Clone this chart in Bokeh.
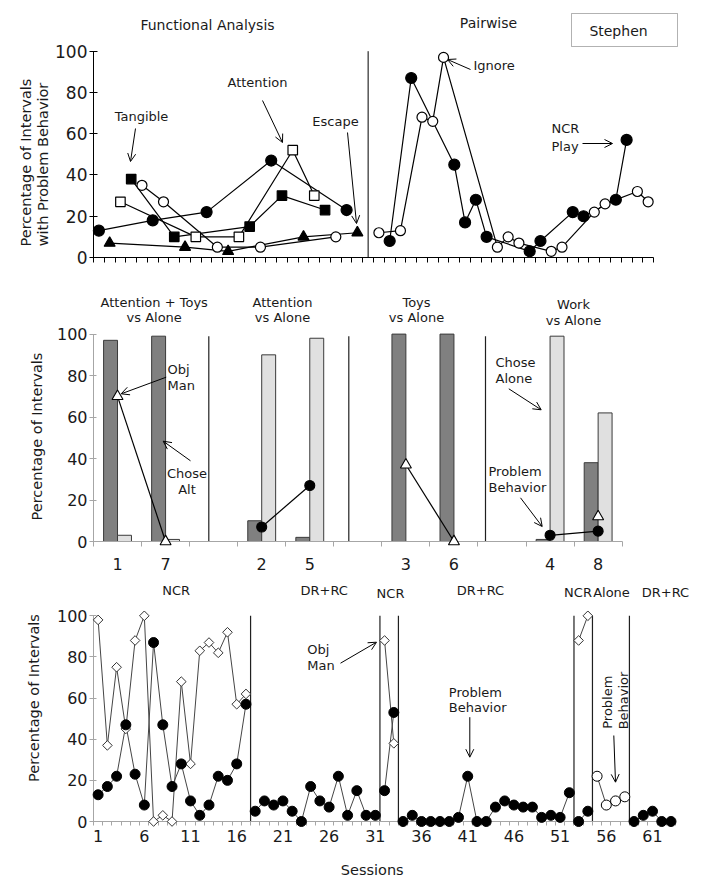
from math import pi
from bokeh.plotting import figure
from bokeh.models import Range1d, FixedTicker, Label, Arrow, OpenHead, BoxAnnotation
from bokeh.core.properties import value
from bokeh.layouts import column
from bokeh.embed import file_html
from bokeh.resources import INLINE

FONT = "DejaVu Sans"
TXT = "#1a1a1a"

# ---------------- Top panel data: Functional Analysis (1-25) and Pairwise (27-52)
fa_ignore_sessions = [1, 6, 11, 17, 24]
fa_ignore = [13, 18, 22, 47, 23]
fa_escape_sessions = [2, 9, 13, 20, 25]
fa_escape = [7, 5, 3, 10, 12]
fa_attention_sessions = [3, 10, 14, 19, 21]
fa_attention = [27, 10, 10, 52, 30]
fa_tangible_sessions = [4, 8, 15, 18, 22]
fa_tangible = [38, 10, 15, 30, 23]
fa_play_sessions = [5, 7, 12, 16, 23]
fa_play = [35, 27, 5, 5, 10]
pw_ncr_play_sessions = [28, 30, 34, 35, 36, 37, 41, 42, 45, 46, 49, 50]
pw_ncr_play = [8, 87, 45, 17, 28, 10, 3, 8, 22, 20, 28, 57]
pw_ignore_sessions = [27, 29, 31, 32, 33, 38, 39, 40, 43, 44, 47, 48, 51, 52]
pw_ignore = [12, 13, 68, 66, 97, 5, 10, 7, 3, 5, 22, 26, 32, 27]
top_n_sessions = 52
top_phase_change = 26

# ---------------- Middle panel data: choice assessment
choice_titles = [("Attention + Toys", "vs Alone"), ("Attention", "vs Alone"),
                 ("Toys", "vs Alone"), ("Work", "vs Alone")]
choice_sessions = [["1", "7"], ["2", "5"], ["3", "6"], ["4", "8"]]
chose_alt = [[97, 99], [10, 2], [100, 100], [1, 38]]
chose_alone = [[3, 1], [90, 98], [0, 0], [99, 62]]
choice_obj_man = [[70, 0], [None, None], [37, 0], [None, 12]]
choice_problem = [[None, None], [7, 27], [None, None], [3, 5]]

# ---------------- Bottom panel data: treatment
treat_phases = ["NCR", "DR+RC", "NCR", "DR+RC", "NCR", "Alone", "DR+RC"]
treat_phase_lengths = [17, 14, 2, 19, 2, 4, 5]
treat_problem = [13, 17, 22, 47, 23, 8, 87, 47, 17, 28, 10, 3, 8, 22, 20, 28, 57,
                 5, 10, 8, 10, 5, 0, 17, 10, 7, 22, 3, 15, 3, 3,
                 15, 53,
                 0, 3, 0, 0, 0, 0, 2, 22, 0, 0, 7, 10, 8, 7, 7, 2, 3, 2, 14,
                 0, 5,
                 22, 8, 10, 12,
                 0, 3, 5, 0, 0]
treat_obj_man = [98, 37, 75, 45, 88, 100, 0, 3, 0, 68, 28, 83, 87, 82, 92, 57, 62,
                 None, None, None, None, None, None, None, None, None, None, None, None, None, None,
                 88, 38,
                 None, None, None, None, None, None, None, None, None, None, None, None, None, None,
                 None, None, None, None, None,
                 88, 100,
                 None, None, None, None,
                 None, None, None, None, None]
treat_tick_labels = list(range(1, 62, 5))


def base_fig(height, x_end, y_end, border_top, border_bottom):
    p = figure(width=693, height=height, output_backend="svg", toolbar_location=None,
               title=None, x_range=Range1d(0.5, x_end), y_range=Range1d(0, y_end),
               min_border_left=93, min_border_right=0, min_border_top=border_top,
               min_border_bottom=border_bottom)
    p.outline_line_color = None
    p.grid.visible = False
    p.background_fill_color = "white"
    p.border_fill_color = "white"
    return p


def style_y(p, color, size, tin):
    ax = p.yaxis[0]
    ax.ticker = FixedTicker(ticks=[0, 20, 40, 60, 80, 100])
    ax.bounds = (0, 100)
    ax.axis_line_color = color
    ax.major_tick_line_color = color
    ax.major_tick_in = tin
    ax.major_tick_out = 4
    ax.minor_tick_line_color = None
    ax.major_label_text_font = FONT
    ax.major_label_text_font_size = size
    ax.major_label_text_color = TXT
    ax.major_label_standoff = 2


def lab(p, x, y, text, size="13px", align="center", angle=0):
    p.add_layout(Label(x=x, y=y, text=text, text_font=FONT, text_font_size=size,
                       text_color=TXT, text_align=align, text_baseline="middle", angle=angle))


def otext(p, x, y, text, size="14.5px", angle=0):
    # text drawn outside the data frame (axis titles)
    p.text(x=[x], y=[y], text=[text], angle=angle, text_font=value(FONT),
           text_font_size=size, text_color=TXT, text_align="center",
           text_baseline="middle", level="overlay")


def arr(p, x0, y0, x1, y1):
    p.add_layout(Arrow(end=OpenHead(size=8, line_width=1, line_color="black"),
                       x_start=x0, y_start=y0, x_end=x1, y_end=y1,
                       line_width=1, line_color="black"))


# ======================= TOP PANEL =======================
X1 = lambda px: 0.5 + (px - 93) / 10.77
Y1 = lambda py: (257 - py) / 2.063
p1 = base_fig(277, X1(693), Y1(8), 8, 20)
style_y(p1, "black", "17px", 4)
xa = p1.xaxis[0]
xa.ticker = FixedTicker(ticks=[], minor_ticks=[i + 0.5 for i in range(0, top_n_sessions + 1)])
xa.bounds = (0.5, top_n_sessions + 0.5)
xa.axis_line_color = "black"
xa.major_tick_line_color = None
xa.minor_tick_line_color = "black"
xa.minor_tick_in = 0
xa.minor_tick_out = 5

p1.segment(x0=[top_phase_change], y0=[0], x1=[top_phase_change], y1=[100],
           line_color="black", line_width=1)

series = [
    (fa_ignore_sessions, fa_ignore, "circle", 11, "black"),
    (fa_escape_sessions, fa_escape, "triangle", 11, "black"),
    (fa_attention_sessions, fa_attention, "square", 9.5, "white"),
    (fa_tangible_sessions, fa_tangible, "square", 9.5, "black"),
    (fa_play_sessions, fa_play, "circle", 10, "white"),
    (pw_ncr_play_sessions, pw_ncr_play, "circle", 11, "black"),
    (pw_ignore_sessions, pw_ignore, "circle", 10, "white"),
]
for xs, ys, mk, sz, fc in series:
    p1.line(xs, ys, line_color="black", line_width=1.2, level="overlay")
for xs, ys, mk, sz, fc in series:
    p1.scatter(xs, ys, marker=mk, size=sz, fill_color=fc, line_color="black",
               line_width=1.2, level="overlay")

lab(p1, X1(207), Y1(24), "Functional Analysis", "14px")
lab(p1, X1(488), Y1(22), "Pairwise", "14px")
p1.add_layout(BoxAnnotation(left=X1(571), right=X1(677), top=Y1(13), bottom=Y1(46),
                            fill_alpha=0, line_color="black", line_width=1))
lab(p1, X1(618), Y1(30), "Stephen", "14px")
otext(p1, X1(25), Y1(162), "Percentage of Intervals", angle=pi / 2)
otext(p1, X1(42), Y1(164), "with Problem Behavior", angle=pi / 2)
lab(p1, X1(141), Y1(116), "Tangible")
arr(p1, X1(135), Y1(128), X1(130), Y1(161))
lab(p1, X1(257), Y1(82), "Attention")
arr(p1, X1(262), Y1(100), X1(282), Y1(142))
lab(p1, X1(335), Y1(121), "Escape")
arr(p1, X1(347), Y1(132), X1(356), Y1(223))
lab(p1, X1(473), Y1(65), "Ignore", align="left")
arr(p1, X1(470), Y1(69), X1(447), Y1(59))
lab(p1, X1(551), Y1(128), "NCR", align="left")
lab(p1, X1(551), Y1(146), "Play", align="left")
arr(p1, X1(582), Y1(143), X1(612), Y1(143))

# ======================= MIDDLE PANEL =======================
X2 = lambda px: 0.5 + (px - 93) / 48.06
Y2 = lambda py: (541 - py) / 2.074
p2 = base_fig(300, X2(693), Y2(277), 0, 36)
GRAY = "#a6a6a6"
style_y(p2, GRAY, "16px", 3)

pos = []
labels = {}
alt_x, alt_v, alone_x, alone_v = [], [], [], []
for gi, grp in enumerate(choice_sessions):
    for wi, s in enumerate(grp):
        x = gi * 3 + wi + 1
        pos.append(x)
        labels[float(x)] = s
        alt_x.append(x - 0.145)
        alt_v.append(chose_alt[gi][wi])
        alone_x.append(x + 0.145)
        alone_v.append(chose_alone[gi][wi])
n_mid = len(choice_sessions) * 3 - 1
xa = p2.xaxis[0]
xa.ticker = FixedTicker(ticks=pos, minor_ticks=[i + 0.5 for i in range(0, n_mid + 1)])
xa.bounds = (0.5, n_mid + 0.5)
xa.axis_line_color = GRAY
xa.major_tick_line_color = None
xa.minor_tick_line_color = GRAY
xa.minor_tick_in = 0
xa.minor_tick_out = 5
xa.major_label_overrides = labels
xa.major_label_text_font = FONT
xa.major_label_text_font_size = "16px"
xa.major_label_text_color = TXT
xa.major_label_standoff = 10

p2.vbar(x=alt_x, top=alt_v, width=0.29, bottom=0, fill_color="#808080",
        line_color="#3a3a3a", line_width=1)
p2.vbar(x=alone_x, top=alone_v, width=0.29, bottom=0, fill_color="#e0e0e0",
        line_color="#3a3a3a", line_width=1)
mid_sep = [X2(208.3), X2(348.3), X2(485)]
p2.segment(x0=mid_sep, y0=[0] * 3, x1=mid_sep, y1=[99] * 3, line_color="#202020", line_width=1.2)

for gi, grp in enumerate(choice_sessions):
    xs = [gi * 3 + wi + 1 for wi in range(len(grp))]
    for vals, mk, fc, sz in [(choice_obj_man[gi], "triangle", "white", 11),
                             (choice_problem[gi], "circle", "black", 10)]:
        pts = [(x, v) for x, v in zip(xs, vals) if v is not None]
        if not pts:
            continue
        px = [a for a, b in pts]
        py = [b for a, b in pts]
        if len(pts) > 1:
            p2.line(px, py, line_color="black", line_width=1.2, level="overlay")
        p2.scatter(px, py, marker=mk, size=sz, fill_color=fc, line_color="black",
                   line_width=1.1, level="overlay")

title_px = [(153.7, 302, 317), (282, 302, 317), (416, 302, 317), (573, 303.5, 319.5)]
for (t1, t2), (cx, ya, yb) in zip(choice_titles, title_px):
    lab(p2, X2(cx), Y2(ya), t1)
    lab(p2, X2(cx), Y2(yb), t2)
otext(p2, X2(36.7), Y2(436), "Percentage of Intervals", angle=pi / 2)
lab(p2, X2(167), Y2(369), "Obj", align="left")
lab(p2, X2(167), Y2(384.5), "Man", align="left")
arr(p2, X2(165.7), Y2(376.7), X2(120.7), Y2(393.3))
lab(p2, X2(186.5), Y2(472.7), "Chose")
lab(p2, X2(186.5), Y2(489.3), "Alt")
arr(p2, X2(190), Y2(460.3), X2(162.7), Y2(440.7))
lab(p2, X2(495), Y2(361.7), "Chose", align="left")
lab(p2, X2(495), Y2(378.3), "Alone", align="left")
arr(p2, X2(508.3), Y2(388.3), X2(540.7), Y2(409.3))
lab(p2, X2(488), Y2(470.7), "Problem", align="left")
lab(p2, X2(488), Y2(486.7), "Behavior", align="left")
arr(p2, X2(520), Y2(497.3), X2(541.7), Y2(526))

# ======================= BOTTOM PANEL =======================
X3 = lambda px: 0.5 + (px - 93) / 9.24
Y3 = lambda py: (821 - py) / 2.057
p3 = base_fig(302, X3(693), Y3(577), 0, 58)
style_y(p3, GRAY, "16px", 3)
n_tot = sum(treat_phase_lengths)
xa = p3.xaxis[0]
xa.ticker = FixedTicker(ticks=treat_tick_labels, minor_ticks=[i + 0.5 for i in range(0, n_tot + 1)])
xa.bounds = (0.5, n_tot + 0.5)
xa.axis_line_color = GRAY
xa.major_tick_line_color = None
xa.minor_tick_line_color = GRAY
xa.minor_tick_in = 0
xa.minor_tick_out = 4
xa.major_label_text_font = FONT
xa.major_label_text_font_size = "16px"
xa.major_label_text_color = TXT
xa.major_label_standoff = 2

bounds = []
start = 1
for name, n in zip(treat_phases, treat_phase_lengths):
    sess = list(range(start, start + n))
    pb = treat_problem[start - 1:start - 1 + n]
    om = treat_obj_man[start - 1:start - 1 + n]
    om_pts = [(s, v) for s, v in zip(sess, om) if v is not None]
    if om_pts:
        p3.line([a for a, b in om_pts], [b for a, b in om_pts], line_color="#454545",
                line_width=1, level="overlay")
    p3.line(sess, pb, line_color="#454545", line_width=1, level="overlay")
    if om_pts:
        p3.scatter([a for a, b in om_pts], [b for a, b in om_pts], marker="square",
                   angle=pi / 4, size=6.8, fill_color="white", line_color="#333333",
                   line_width=1, level="overlay")
    fc = "white" if name == "Alone" else "black"
    p3.scatter(sess, pb, marker="circle", size=10, fill_color=fc, line_color="black",
               line_width=1, level="overlay")
    start += n
    bounds.append(start - 0.5)
bounds = bounds[:-1]
p3.segment(x0=bounds, y0=[0] * len(bounds), x1=bounds, y1=[100] * len(bounds),
           line_color="#202020", line_width=1.2)

phase_label_px = [(175.7, 590), (323.7, 590), (390, 592.7), (480, 590),
                  (577.5, 591.7), (611, 591.7), (665, 591.7)]
for name, (cx, cy) in zip(treat_phases, phase_label_px):
    lab(p3, X3(cx), Y3(cy), name)
otext(p3, X3(33.3), Y3(697.5), "Percentage of Intervals", angle=pi / 2)
otext(p3, X3(371.7), Y3(869), "Sessions")
lab(p3, X3(306.7), Y3(649), "Obj", align="left")
lab(p3, X3(306.7), Y3(664.5), "Man", align="left")
arr(p3, X3(340), Y3(662.7), X3(376), Y3(641.7))
lab(p3, X3(448.3), Y3(691.7), "Problem", align="left")
lab(p3, X3(448.3), Y3(707.3), "Behavior", align="left")
arr(p3, X3(469.3), Y3(716.7), X3(469.3), Y3(756.7))
lab(p3, X3(606.7), Y3(701.7), "Problem", angle=pi / 2)
lab(p3, X3(622.7), Y3(700), "Behavior", angle=pi / 2)
arr(p3, X3(613.3), Y3(735), X3(615), Y3(781.7))

layout = column(p1, p2, p3, spacing=0)
open("out.html", "w").write(file_html(layout, INLINE))
